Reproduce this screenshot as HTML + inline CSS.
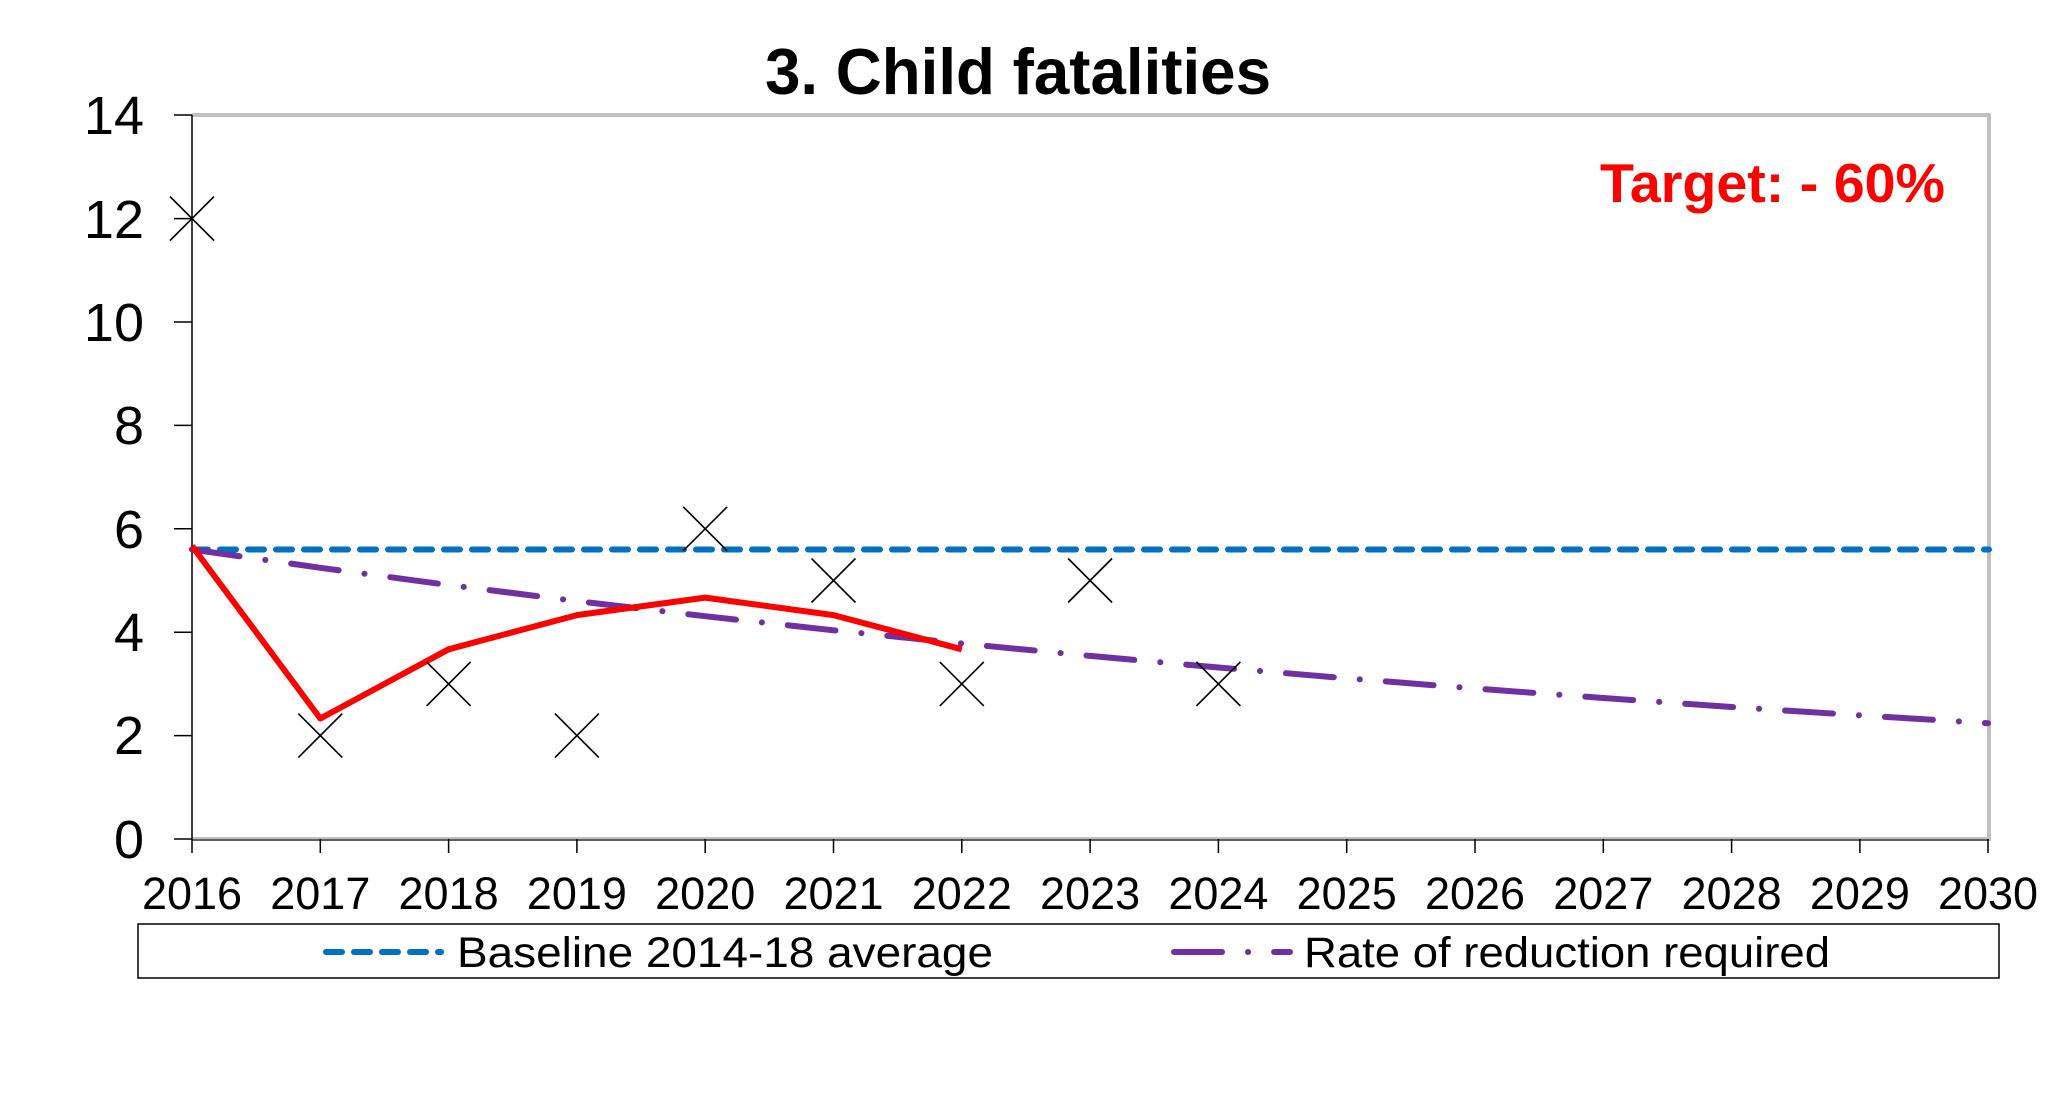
<!DOCTYPE html>
<html><head><meta charset="utf-8"><style>
html,body{margin:0;padding:0;background:#fff;}
svg{display:block;font-family:"Liberation Sans",Arial,sans-serif;}
</style></head><body>
<svg width="2068" height="1113" viewBox="0 0 2068 1113" xmlns="http://www.w3.org/2000/svg">
<rect width="2068" height="1113" fill="#fff"/>
<text x="1018" y="94" font-size="65" font-weight="bold" text-anchor="middle" textLength="506" lengthAdjust="spacingAndGlyphs">3. Child fatalities</text>
<polyline points="192,115 1989,115 1989,839 192,839" fill="none" stroke="#c0c0c0" stroke-width="4"/>
<line x1="192" y1="115" x2="192" y2="839" stroke="#000" stroke-width="1.5"/>
<line x1="192" y1="840" x2="1989" y2="840" stroke="#000" stroke-width="1"/>
<g stroke="#000" stroke-width="1.5">
<line x1="174" y1="115" x2="192" y2="115"/><line x1="174" y1="218.6" x2="192" y2="218.6"/>
<line x1="174" y1="322" x2="192" y2="322"/><line x1="174" y1="425.4" x2="192" y2="425.4"/>
<line x1="174" y1="528.8" x2="192" y2="528.8"/><line x1="174" y1="632.2" x2="192" y2="632.2"/>
<line x1="174" y1="735.6" x2="192" y2="735.6"/><line x1="174" y1="839" x2="192" y2="839"/>
</g>
<g font-size="54" text-anchor="end">
<text x="144" y="134">14</text><text x="144" y="238">12</text><text x="144" y="341">10</text>
<text x="144" y="444">8</text><text x="144" y="548">6</text><text x="144" y="651">4</text>
<text x="144" y="754">2</text><text x="144" y="858">0</text>
</g>
<g stroke="#000" stroke-width="1.5">
<line x1="192" y1="839" x2="192" y2="853"/><line x1="320.3" y1="839" x2="320.3" y2="853"/><line x1="448.6" y1="839" x2="448.6" y2="853"/><line x1="576.9" y1="839" x2="576.9" y2="853"/><line x1="705.2" y1="839" x2="705.2" y2="853"/><line x1="833.5" y1="839" x2="833.5" y2="853"/><line x1="961.8" y1="839" x2="961.8" y2="853"/><line x1="1090.1" y1="839" x2="1090.1" y2="853"/><line x1="1218.4" y1="839" x2="1218.4" y2="853"/><line x1="1346.7" y1="839" x2="1346.7" y2="853"/><line x1="1475" y1="839" x2="1475" y2="853"/><line x1="1603.3" y1="839" x2="1603.3" y2="853"/><line x1="1731.6" y1="839" x2="1731.6" y2="853"/><line x1="1859.9" y1="839" x2="1859.9" y2="853"/><line x1="1988" y1="839" x2="1988" y2="853"/>
</g>
<g font-size="45" text-anchor="middle">
<text x="192" y="909">2016</text><text x="320.3" y="909">2017</text><text x="448.6" y="909">2018</text><text x="576.9" y="909">2019</text><text x="705.2" y="909">2020</text><text x="833.5" y="909">2021</text><text x="961.8" y="909">2022</text><text x="1090.1" y="909">2023</text><text x="1218.4" y="909">2024</text><text x="1346.7" y="909">2025</text><text x="1475" y="909">2026</text><text x="1603.3" y="909">2027</text><text x="1731.6" y="909">2028</text><text x="1859.9" y="909">2029</text><text x="1988" y="909">2030</text>
</g>
<line x1="192" y1="549.5" x2="1989" y2="549.5" stroke="#0070c0" stroke-width="6" stroke-linecap="round" stroke-dasharray="16,12"/>
<polyline points="192,549.5 320.3,567.8 448.6,585 576.9,601.1 705.2,616.2 833.5,630.3 961.8,643.5 1090.1,655.9 1218.4,667.5 1346.7,678.3 1475,688.5 1603.3,698 1731.6,707 1859.9,715.3 1988,723.2" fill="none" stroke="#7030a0" stroke-width="6" stroke-linecap="round" stroke-dasharray="48,26,0.1,26"/>
<polyline points="192,545.9 320.3,718.5 448.6,649.3 576.9,615.1 705.2,597.6 833.5,615.1 961.8,649.3" fill="none" stroke="#ff0000" stroke-width="6" stroke-linejoin="round"/>
<g stroke="#000" stroke-width="1.6" fill="none">
<path d="M170,196.6l44,44M214,196.6l-44,44"/>
<path d="M298.3,713.6l44,44M342.3,713.6l-44,44"/>
<path d="M426.6,661.9l44,44M470.6,661.9l-44,44"/>
<path d="M554.9,713.6l44,44M598.9,713.6l-44,44"/>
<path d="M683.2,506.8l44,44M727.2,506.8l-44,44"/>
<path d="M811.5,558.5l44,44M855.5,558.5l-44,44"/>
<path d="M939.8,661.9l44,44M983.8,661.9l-44,44"/>
<path d="M1068.1,558.5l44,44M1112.1,558.5l-44,44"/>
<path d="M1196.4,661.9l44,44M1240.4,661.9l-44,44"/>
</g>
<text x="1600" y="202" font-size="55" font-weight="bold" fill="#ff0000" textLength="345" lengthAdjust="spacingAndGlyphs">Target: - 60%</text>
<rect x="138" y="924" width="1861" height="54" fill="#fff" stroke="#000" stroke-width="1.5"/>
<line x1="326" y1="952" x2="441" y2="952" stroke="#0070c0" stroke-width="6" stroke-linecap="round" stroke-dasharray="16,12"/>
<text x="457" y="967" font-size="43" textLength="536" lengthAdjust="spacingAndGlyphs">Baseline 2014-18 average</text>
<line x1="1174" y1="952" x2="1290" y2="952" stroke="#7030a0" stroke-width="6" stroke-linecap="round" stroke-dasharray="48,26,0.1,26"/>
<text x="1304" y="967" font-size="43" textLength="526" lengthAdjust="spacingAndGlyphs">Rate of reduction required</text>
</svg>
</body></html>
